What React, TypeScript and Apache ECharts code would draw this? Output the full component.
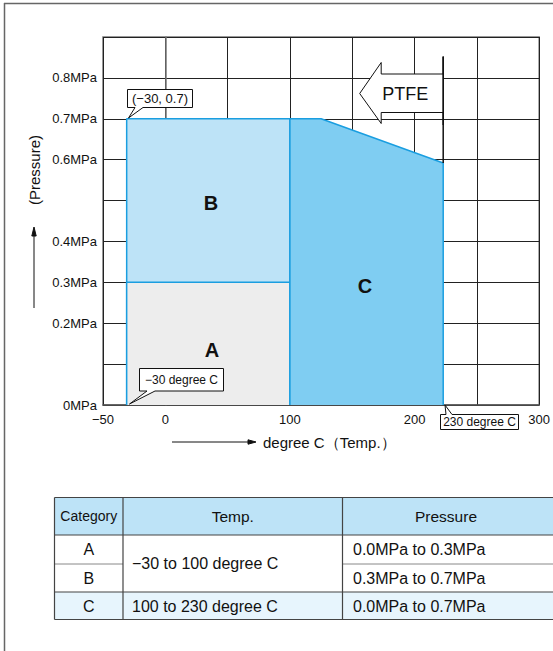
import React, { useEffect, useRef } from "react";
import * as echarts from "echarts";

// ---- data ----
const xTickLabels = [-50, 0, 100, 200, 300];
const yTickLabels = [0, 0.2, 0.3, 0.4, 0.6, 0.7, 0.8];
const regionB = [[-31, 0], [-31, 0.7], [100, 0.7], [100, 0]];
const regionA = [[-31, 0], [-31, 0.3], [100, 0.3], [100, 0]];
const regionC = [[100, 0], [100, 0.7], [125, 0.7], [223, 0.592], [223, 0]];
const ptfeLimit = [[223, 0.592], [223, 0.853]];
const regionNames = ["A", "B", "C"];

const tableHeader = ["Category", "Temp.", "Pressure"];
const tableCategories = ["A", "B", "C"];
const tableTemps = ["−30 to 100 degree C", "100 to 230 degree C"];
const tablePressures = ["0.0MPa to 0.3MPa", "0.3MPa to 0.7MPa", "0.0MPa to 0.7MPa"];

const FONT = "'Liberation Sans', Arial, Helvetica, sans-serif";
const BLUE = "#1a9ee0";

function fmtNum(v: number) {
  return v < 0 ? "−" + Math.abs(v) : String(v);
}

function txt(text: string, x: number, y: number, size: number, opts: any = {}) {
  return {
    type: "text",
    z: 100,
    style: {
      text,
      x,
      y,
      fontSize: size,
      fontFamily: FONT,
      fill: "#111",
      align: opts.align || "center",
      verticalAlign: "middle",
      fontWeight: opts.bold ? "bold" : "normal",
    },
  };
}

function line(x1: number, y1: number, x2: number, y2: number, stroke = "#111", lw = 1, z = 100) {
  return { type: "line", z, shape: { x1, y1, x2, y2 }, style: { stroke, lineWidth: lw } };
}

function poly(points: number[][], fill: string, stroke = "#111", lw = 1, z = 100) {
  return { type: "polygon", z, shape: { points }, style: { fill, stroke, lineWidth: lw } };
}

function buildTable() {
  const cols = [54.5, 123, 342.5, 560];
  const rows = [497.5, 535, 564, 592, 619.5];
  const els: any[] = [];
  els.push({ type: "rect", z: 90, shape: { x: cols[0], y: rows[0], width: cols[3] - cols[0], height: rows[1] - rows[0] }, style: { fill: "#bde3f7" } });
  els.push({ type: "rect", z: 90, shape: { x: cols[0], y: rows[3], width: cols[3] - cols[0], height: rows[4] - rows[3] }, style: { fill: "#e7f5fd" } });
  els.push(line(cols[0], rows[0], cols[3], rows[0], "#444", 1.2, 95));
  els.push(line(cols[0], rows[1], cols[3], rows[1], "#444", 1.2, 95));
  els.push(line(cols[0], rows[2], cols[1], rows[2], "#888", 1, 95));
  els.push(line(cols[2], rows[2], cols[3], rows[2], "#888", 1, 95));
  els.push(line(cols[0], rows[3], cols[3], rows[3], "#444", 1.2, 95));
  els.push(line(cols[0], rows[4], cols[3], rows[4], "#444", 1.2, 95));
  els.push(line(cols[0], rows[0], cols[0], rows[4], "#444", 1.2, 95));
  els.push(line(cols[1], rows[0], cols[1], rows[4], "#444", 1.2, 95));
  els.push(line(cols[2], rows[0], cols[2], rows[4], "#444", 1.2, 95));
  els.push(txt(tableHeader[0], (cols[0] + cols[1]) / 2, 516, 14));
  els.push(txt(tableHeader[1], (cols[1] + cols[2]) / 2, 516, 15.5));
  els.push(txt(tableHeader[2], 446, 516, 15.5));
  const rowMid = [549.5, 578, 606];
  tableCategories.forEach((c, i) => els.push(txt(c, (cols[0] + cols[1]) / 2, rowMid[i], 16)));
  els.push(txt(tableTemps[0], 132, (rows[1] + rows[3]) / 2, 16, { align: "left" }));
  els.push(txt(tableTemps[1], 132, rowMid[2], 16, { align: "left" }));
  tablePressures.forEach((p, i) => els.push(txt(p, 353, rowMid[i], 16, { align: "left" })));
  return els;
}

function buildGraphics(limitX: number) {
  const els: any[] = [];
  // outer frame
  els.push(line(4.5, 3, 4.5, 651, "#666", 1.5));
  els.push(line(4, 3.5, 553, 3.5, "#666", 1.5));
  // region labels
  els.push(txt(regionNames[1], 211, 203, 20, { bold: true }));
  els.push(txt(regionNames[0], 212, 349.5, 20, { bold: true }));
  els.push(txt(regionNames[2], 365, 286, 20, { bold: true }));
  // PTFE arrow, attached to the limit line
  const sx = limitX;
  const hx = sx - 62;
  els.push(poly([[hx - 21.5, 93.5], [hx, 62.5], [hx, 74], [sx, 74], [sx, 112.5], [hx, 112.5], [hx, 123.5]], "#fff", "#111", 1, 100));
  els.push(line(sx, 57, sx, 125, "#111", 1.5, 101));
  els.push(txt("PTFE", hx + 24, 94, 18));
  // callouts
  els.push(poly([[127.5, 89.5], [192.5, 89.5], [192.5, 107.5], [143, 107.5], [128.5, 118], [135, 107.5], [127.5, 107.5]], "#fff"));
  els.push(txt("(−30, 0.7)", 160, 98.5, 13));
  els.push(poly([[139.5, 368.5], [223.5, 368.5], [223.5, 391], [155, 391], [129.5, 404], [147, 391], [139.5, 391]], "#fff"));
  els.push(txt("−30 degree C", 181.5, 380, 12));
  els.push(poly([[440.5, 414.5], [446, 414.5], [445, 405], [452, 414.5], [518.5, 414.5], [518.5, 429.5], [440.5, 429.5]], "#fff"));
  els.push(txt("230 degree C", 479.5, 422, 12));
  // axis titles and arrows
  els.push(line(172, 442, 250, 442, "#111", 1));
  els.push(poly([[248, 439.8], [256, 442], [248, 444.2]], "#111", "#111", 1));
  els.push(txt("degree C（Temp.）", 263, 442, 15, { align: "left" }));
  els.push(line(34, 308, 34, 234, "#111", 1));
  els.push(poly([[31.8, 236], [34, 227], [36.2, 236]], "#111", "#111", 1));
  els.push({
    type: "text",
    z: 100,
    x: 34.5,
    y: 170,
    rotation: Math.PI / 2,
    style: { text: "(Pressure)", x: 0, y: 0, fontSize: 15, fontFamily: FONT, fill: "#111", align: "center", verticalAlign: "middle" },
  });
  return els.concat(buildTable());
}

function regionSeries(data: number[][], fill: string, z: number) {
  return {
    type: "line",
    data,
    z,
    symbol: "none",
    silent: true,
    lineStyle: { color: BLUE, width: 1.5 },
    areaStyle: { color: fill, opacity: 1 },
  };
}

export default function App() {
  const ref = useRef<HTMLDivElement>(null);
  useEffect(() => {
    if (!ref.current) return;
    const chart = echarts.init(ref.current, null, { renderer: "svg" });
    chart.setOption({
      animation: false,
      backgroundColor: "#fff",
      grid: { left: 103, top: 37, width: 439, height: 368, show: true, borderColor: "#777", borderWidth: 1.5, backgroundColor: "transparent" },
      xAxis: {
        type: "value",
        min: -50,
        max: 300,
        interval: 50,
        axisLine: { onZero: false, lineStyle: { color: "#555", width: 1.5 } },
        axisTick: { show: false },
        splitLine: { show: true, lineStyle: { color: "#222", width: 1 } },
        axisLabel: {
          margin: 8,
          fontSize: 13,
          fontFamily: FONT,
          color: "#111",
          formatter: (v: number) => (xTickLabels.includes(v) ? fmtNum(v) : ""),
        },
      },
      yAxis: {
        type: "value",
        min: 0,
        max: 0.9,
        interval: 0.1,
        axisLine: { show: true, lineStyle: { color: "#777", width: 1.5 } },
        axisTick: { show: false },
        splitLine: { show: true, lineStyle: { color: "#222", width: 1 } },
        axisLabel: {
          margin: 6,
          fontSize: 13,
          fontFamily: FONT,
          color: "#111",
          formatter: (v: number) => {
            const r = Math.round(v * 10) / 10;
            return yTickLabels.includes(r) ? (r === 0 ? "0MPa" : r + "MPa") : "";
          },
        },
      },
      series: [
        regionSeries(regionB, "#bde3f7", 2),
        regionSeries(regionA, "#ededed", 3),
        regionSeries(regionC, "#7fcdf2", 4),
        {
          type: "line",
          data: ptfeLimit,
          z: 5,
          symbol: "none",
          silent: true,
          lineStyle: { color: "#111", width: 1.5 },
        },
      ],
    });
    const px = chart.convertToPixel({ gridIndex: 0 }, ptfeLimit[0]) as number[];
    chart.setOption({ graphic: buildGraphics(px[0]) });
    return () => chart.dispose();
  }, []);
  return (
    <div style={{ position: "absolute", left: 0, top: 0, width: 553, height: 651, background: "#fff" }}>
      <div ref={ref} style={{ width: 553, height: 651 }} />
    </div>
  );
}
